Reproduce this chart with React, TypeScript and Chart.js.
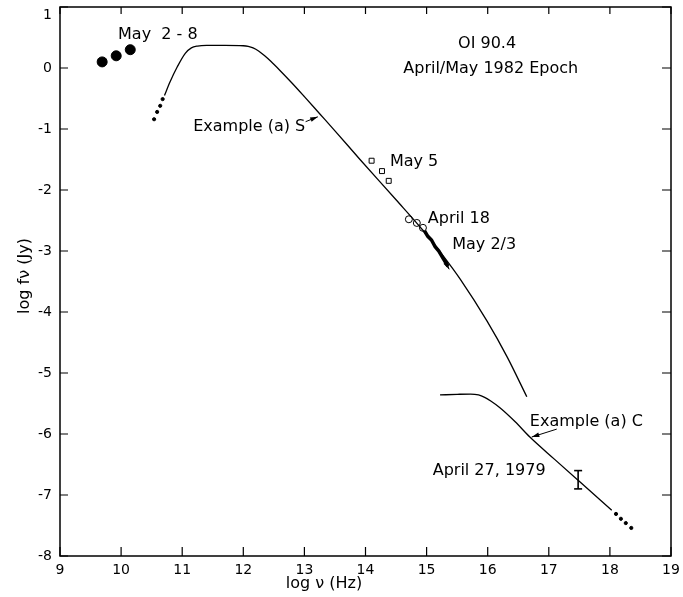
import React, { useEffect, useRef } from "react";
import { Chart, registerables } from "chart.js";

Chart.register(...registerables);

const X_MIN = 9;
const X_MAX = 19;
const Y_MIN = -8;
const Y_MAX = 1;
const xTickValues = [9, 10, 11, 12, 13, 14, 15, 16, 17, 18, 19];
const yTickValues = [-8, -7, -6, -5, -4, -3, -2, -1, 0, 1];

// May 2-8 (filled circles)
const may28X = [9.69, 9.92, 10.15];
const may28Y = [0.1, 0.2, 0.3];

// dotted extension below the S curve
const sDotsX = [10.54, 10.59, 10.64, 10.68];
const sDotsY = [-0.84, -0.72, -0.62, -0.51];

// Example (a) S curve
const sCurveX = [10.71, 10.8, 10.92, 11.05, 11.15, 11.25, 11.4, 11.7, 12.0, 12.08, 12.16, 12.25, 12.35, 12.45, 12.6, 12.8, 13.0, 13.25, 13.5, 13.91, 14.5, 14.94, 15.25, 15.55, 15.99, 16.32, 16.64];
const sCurveY = [-0.45, -0.23, 0.02, 0.24, 0.33, 0.36, 0.37, 0.37, 0.365, 0.355, 0.33, 0.28, 0.2, 0.11, -0.04, -0.25, -0.47, -0.75, -1.03, -1.5, -2.16, -2.66, -3.05, -3.46, -4.15, -4.74, -5.39];

// May 5 (open squares)
const may5X = [14.1, 14.27, 14.38];
const may5Y = [-1.52, -1.69, -1.85];

// April 18 (open circles)
const apr18X = [14.71, 14.84, 14.94];
const apr18Y = [-2.48, -2.54, -2.62];

// May 2/3 (thick segment)
const may23X = [14.96, 15.02, 15.08, 15.14, 15.2, 15.27, 15.35];
const may23Y = [-2.66, -2.76, -2.82, -2.93, -3.0, -3.12, -3.25];

// Example (a) C curve
const cCurveX = [15.22, 15.5, 15.72, 15.85, 15.95, 16.05, 16.2, 16.45, 16.69, 17.1, 17.48, 18.03];
const cCurveY = [-5.36, -5.35, -5.345, -5.36, -5.4, -5.46, -5.57, -5.8, -6.05, -6.42, -6.76, -7.25];

// dotted extension of the C curve
const cDotsX = [18.1, 18.18, 18.26, 18.35];
const cDotsY = [-7.31, -7.39, -7.46, -7.54];

// April 27, 1979 error bar
const apr79X = [17.48, 17.48];
const apr79Y = [-6.6, -6.9];

const zip = (xs: number[], ys: number[]) => xs.map((x, i) => ({ x, y: ys[i] }));

const FONT = "'DejaVu Sans', sans-serif";

function drawArrow(ctx: CanvasRenderingContext2D, x1: number, y1: number, x2: number, y2: number, head: number) {
  const ang = Math.atan2(y2 - y1, x2 - x1);
  ctx.beginPath();
  ctx.moveTo(x1, y1);
  ctx.lineTo(x2, y2);
  ctx.stroke();
  ctx.beginPath();
  ctx.moveTo(x2, y2);
  ctx.lineTo(x2 - head * Math.cos(ang - 0.3), y2 - head * Math.sin(ang - 0.3));
  ctx.lineTo(x2 - head * Math.cos(ang + 0.3), y2 - head * Math.sin(ang + 0.3));
  ctx.closePath();
  ctx.fill();
}

const zeroPad = (s: any) => {
  s.paddingTop = 0;
  s.paddingBottom = 0;
  s.paddingLeft = 0;
  s.paddingRight = 0;
};

const decorPlugin = {
  id: "decor",
  afterDatasetsDraw(chart: any) {
    const ctx: CanvasRenderingContext2D = chart.ctx;
    const xs = chart.scales.x;
    const ys = chart.scales.y;
    const a = chart.chartArea;
    const px = (v: number) => xs.getPixelForValue(v);
    const py = (v: number) => ys.getPixelForValue(v);
    ctx.save();
    ctx.strokeStyle = "#000";
    ctx.fillStyle = "#000";
    // frame
    ctx.lineWidth = 1.5;
    ctx.strokeRect(a.left, a.top, a.right - a.left, a.bottom - a.top);
    // inward ticks
    ctx.lineWidth = 1.2;
    ctx.beginPath();
    xTickValues.forEach((v) => {
      const x = px(v);
      ctx.moveTo(x, a.bottom);
      ctx.lineTo(x, a.bottom - 9);
      ctx.moveTo(x, a.top);
      ctx.lineTo(x, a.top + 7);
    });
    yTickValues.forEach((v) => {
      const y = py(v);
      ctx.moveTo(a.left, y);
      ctx.lineTo(a.left + 8, y);
      ctx.moveTo(a.right, y);
      ctx.lineTo(a.right - 9, y);
    });
    ctx.stroke();

    // top y label sits just below the frame corner
    ctx.font = `14px ${FONT}`;
    ctx.textAlign = "right";
    ctx.textBaseline = "middle";
    ctx.fillText(String(Y_MAX), a.left - 8, py(Y_MAX) + 8);

    // annotations
    ctx.font = `16px ${FONT}`;
    ctx.textBaseline = "middle";
    ctx.textAlign = "left";
    ctx.fillText("May  2 - 8", px(9.95), py(0.55));
    ctx.textAlign = "center";
    ctx.fillText("OI 90.4", px(15.99), py(0.4));
    ctx.fillText("April/May 1982 Epoch", px(16.05), py(-0.02));
    ctx.textAlign = "left";
    ctx.fillText("Example (a) S", px(11.18), py(-0.97));
    ctx.fillText("May 5", px(14.4), py(-1.54));
    ctx.fillText("April 18", px(15.02), py(-2.47));
    ctx.fillText("May 2/3", px(15.42), py(-2.9));
    ctx.fillText("Example (a) C", px(16.69), py(-5.8));
    ctx.fillText("April 27, 1979", px(15.1), py(-6.6));

    ctx.lineWidth = 1;
    drawArrow(ctx, px(13.02), py(-0.88), px(13.22), py(-0.8), 8);
    drawArrow(ctx, px(17.13), py(-5.92), px(16.72), py(-6.05), 8);
    drawArrow(ctx, px(15.27), py(-3.12), px(15.37), py(-3.3), 8);

    // axis titles
    ctx.font = `16px ${FONT}`;
    ctx.textAlign = "center";
    ctx.fillText("log \u03bd (Hz)", 324, 584);
    ctx.save();
    ctx.translate(25, 276);
    ctx.rotate(-Math.PI / 2);
    ctx.fillText("log f\u03bd (Jy)", 0, 0);
    ctx.restore();
    ctx.restore();
  },
};

export default function App() {
  const ref = useRef<HTMLCanvasElement | null>(null);
  useEffect(() => {
    if (!ref.current) return;
    const black = "#000";
    const chart = new Chart(ref.current, {
      type: "scatter",
      data: {
        datasets: [
          { label: "May 2-8", data: zip(may28X, may28Y), pointRadius: 5, backgroundColor: black, borderColor: black, showLine: false },
          { label: "S dots", data: zip(sDotsX, sDotsY), pointRadius: 1.6, backgroundColor: black, borderColor: black, showLine: false },
          { label: "Example (a) S", data: zip(sCurveX, sCurveY), showLine: true, pointRadius: 0, borderColor: black, borderWidth: 1.3, cubicInterpolationMode: "monotone" },
          { label: "May 5", data: zip(may5X, may5Y), pointStyle: "rect", pointRadius: 3.5, backgroundColor: "#fff", borderColor: black, borderWidth: 1, showLine: false },
          { label: "April 18", data: zip(apr18X, apr18Y), pointStyle: "circle", pointRadius: 3.5, backgroundColor: "#fff", borderColor: black, borderWidth: 1, showLine: false },
          { label: "May 2/3", data: zip(may23X, may23Y), showLine: true, pointRadius: 0, borderColor: black, borderWidth: 3.5 },
          { label: "Example (a) C", data: zip(cCurveX, cCurveY), showLine: true, pointRadius: 0, borderColor: black, borderWidth: 1.3, cubicInterpolationMode: "monotone" },
          { label: "C dots", data: zip(cDotsX, cDotsY), pointRadius: 1.6, backgroundColor: black, borderColor: black, showLine: false },
          { label: "April 27, 1979", data: zip(apr79X, apr79Y), showLine: true, pointStyle: "line", pointRadius: 4, borderColor: black, borderWidth: 1.6 },
        ] as any,
      },
      options: {
        animation: false,
        responsive: false,
        devicePixelRatio: 1,
        layout: { padding: { top: 7, right: 12, left: 0, bottom: 0 } },
        plugins: { legend: { display: false }, tooltip: { enabled: false } },
        scales: {
          x: {
            type: "linear",
            min: X_MIN,
            max: X_MAX,
            afterFit: (s: any) => { s.height = 41; zeroPad(s); },
            afterBuildTicks: (s: any) => { s.ticks = xTickValues.map((v) => ({ value: v })); },
            grid: { display: false, drawTicks: false },
            border: { display: false },
            ticks: { color: black, font: { family: FONT, size: 14 }, padding: 6, maxRotation: 0 },
          },
          y: {
            type: "linear",
            min: Y_MIN,
            max: Y_MAX,
            afterFit: (s: any) => { s.width = 60; zeroPad(s); },
            afterBuildTicks: (s: any) => { s.ticks = yTickValues.map((v) => ({ value: v })); },
            grid: { display: false, drawTicks: false },
            border: { display: false },
            ticks: {
              color: black,
              font: { family: FONT, size: 14 },
              padding: 8,
              callback: (v: any) => (v === Y_MAX ? "" : String(v)),
            },
          },
        },
      } as any,
      plugins: [decorPlugin],
    });
    return () => chart.destroy();
  }, []);
  return (
    <div style={{ position: "fixed", left: 0, top: 0, width: 683, height: 597, background: "#fff" }}>
      <canvas ref={ref} width={683} height={597} style={{ width: 683, height: 597 }} />
    </div>
  );
}
